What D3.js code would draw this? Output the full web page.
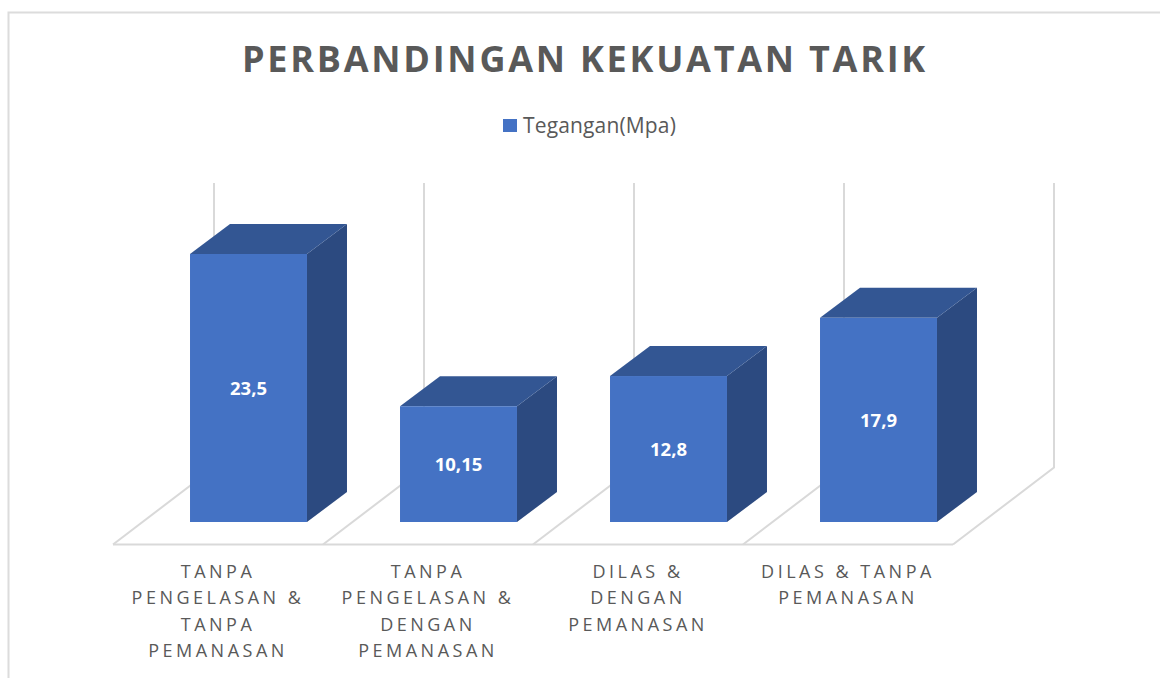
<!DOCTYPE html>
<html>
<head>
<meta charset="utf-8">
<script src="https://cdn.jsdelivr.net/npm/d3@7"></script>
<style>
  html, body { margin: 0; padding: 0; background: #fff; }
  svg { display: block; }
  text { font-family: "Open Sans", sans-serif; }
</style>
</head>
<body>
<div id="chart"></div>
<script>
const categories = ['TANPA PENGELASAN & TANPA PEMANASAN', 'TANPA PENGELASAN & DENGAN PEMANASAN', 'DILAS & DENGAN PEMANASAN', 'DILAS & TANPA PEMANASAN'];
const categoryLines = [
  ['TANPA', 'PENGELASAN &', 'TANPA', 'PEMANASAN'],
  ['TANPA', 'PENGELASAN &', 'DENGAN', 'PEMANASAN'],
  ['DILAS &', 'DENGAN', 'PEMANASAN'],
  ['DILAS & TANPA', 'PEMANASAN']
];
const values = [23.5, 10.15, 12.8, 17.9];
const valueLabels = ['23,5', '10,15', '12,8', '17,9'];
const seriesName = 'Tegangan(Mpa)';
const title = 'PERBANDINGAN KEKUATAN TARIK';

const width = 1160;
const height = 678;
const depthX = 40; // side face of the bars
const depthY = 30;
const wallX = 101; // floor depth
const wallY = 77;

const svg = d3.select('#chart').append('svg').attr('width', width).attr('height', height);

// Chart frame, cut off by the picture on the right and bottom
svg.append('path')
  .attr('d', 'M8.5,678V12.5H1160')
  .attr('fill', 'none')
  .attr('stroke', '#dcdcdc')
  .attr('stroke-width', 2);

svg.append('text')
  .attr('x', 585)
  .attr('y', 72)
  .attr('text-anchor', 'middle')
  .attr('font-size', 36)
  .attr('font-weight', 700)
  .attr('letter-spacing', 2.75)
  .attr('fill', '#595959')
  .text(title);

// Legend
svg.append('rect').attr('x', 503).attr('y', 119).attr('width', 14).attr('height', 13).attr('fill', '#4472c4');
svg.append('text')
  .attr('x', 523)
  .attr('y', 133)
  .attr('font-size', 21)
  .attr('letter-spacing', 0.15)
  .attr('fill', '#595959')
  .text(seriesName);

const x = d3.scaleBand()
  .domain(categories)
  .range([113, 953])
  .paddingInner(0.443)
  .paddingOuter(0.2215);

const y = d3.scaleLinear()
  .domain([0, 23.5])
  .range([522, 254]);

const floorY = 544.5;
const wallTop = 183;
const step = x.step();
const floorStart = x.range()[0];
const ticks = d3.range(categories.length + 1).map(i => floorStart + i * step);

// Back walls and floor lines
const grid = svg.append('g').attr('fill', 'none').attr('stroke', '#d9d9d9').attr('stroke-width', 2);
grid.selectAll('path.wall')
  .data(ticks)
  .join('path')
  .attr('class', 'wall')
  .attr('d', d => `M${d},${floorY}L${d + wallX},${floorY - wallY}V${wallTop}`);
grid.append('path').attr('d', `M${floorStart},${floorY}H${ticks[ticks.length - 1]}`);

// 3d bars, shifted inside the floor depth
const shift = 30.5;
const bars = svg.selectAll('g.bar')
  .data(values)
  .join('g')
  .attr('class', 'bar')
  .attr('transform', (d, i) => `translate(${x(categories[i]) + shift},0)`);

bars.append('path')
  .attr('fill', '#2c4a80')
  .attr('d', d => {
    const w = x.bandwidth();
    return `M${w},${y(d)}l${depthX},${-depthY}V${y(0) - depthY}l${-depthX},${depthY}Z`;
  });
bars.append('path')
  .attr('fill', '#335693')
  .attr('d', d => {
    const w = x.bandwidth();
    return `M0,${y(d)}l${depthX},${-depthY}h${w}l${-depthX},${depthY}Z`;
  });
bars.append('rect')
  .attr('width', x.bandwidth())
  .attr('y', d => y(d))
  .attr('height', d => y(0) - y(d))
  .attr('fill', '#4472c4');

bars.append('text')
  .attr('x', x.bandwidth() / 2)
  .attr('y', d => (y(d) + y(0)) / 2 + 7)
  .attr('text-anchor', 'middle')
  .attr('font-size', 18.5)
  .attr('font-weight', 700)
  .attr('fill', '#fff')
  .text((d, i) => valueLabels[i]);

// Category labels
const labels = svg.selectAll('text.cat')
  .data(categoryLines)
  .join('text')
  .attr('class', 'cat')
  .attr('text-anchor', 'middle')
  .attr('font-size', 18)
  .attr('letter-spacing', 3.5)
  .attr('fill', '#595959');
labels.selectAll('tspan')
  .data((d, i) => d.map(t => ({ t, i })))
  .join('tspan')
  .attr('x', d => floorStart + (d.i + 0.5) * step)
  .attr('y', (d, j) => 578 + j * 26.3)
  .text(d => d.t);
</script>
</body>
</html>
